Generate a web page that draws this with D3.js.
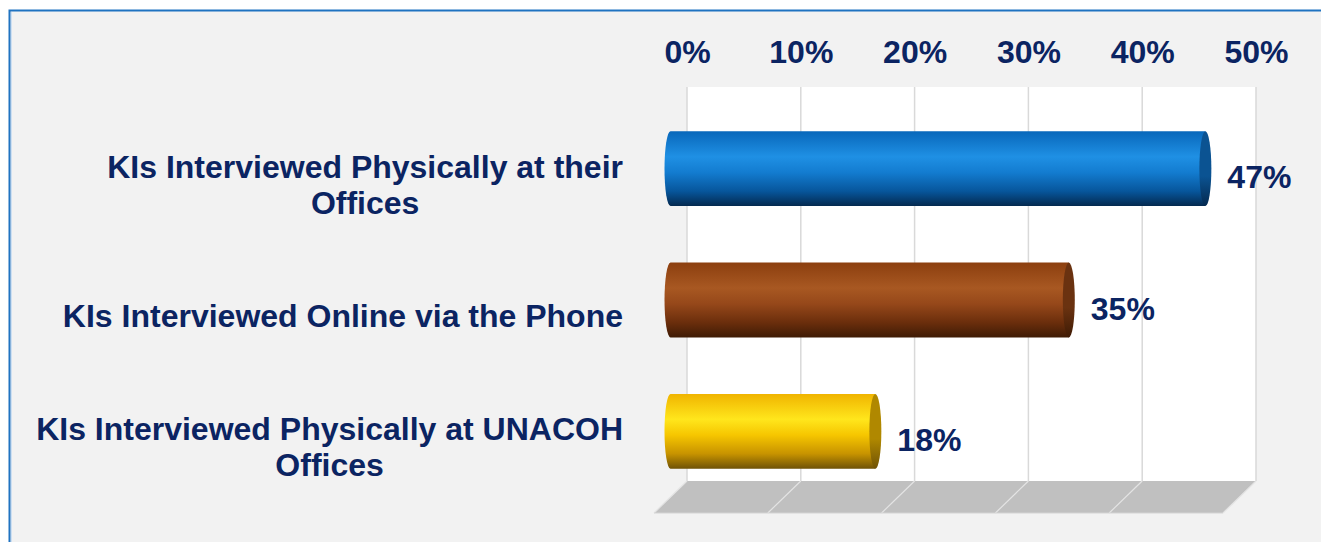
<!DOCTYPE html>
<html>
<head>
<meta charset="utf-8">
<script src="https://cdn.jsdelivr.net/npm/d3@7/dist/d3.min.js"></script>
<style>
  html, body { margin: 0; padding: 0; background: #ffffff; }
  svg { display: block; }
  text { font-family: Arial, "Liberation Sans", sans-serif; font-weight: bold; fill: #0b2462; }
</style>
</head>
<body>
<svg id="chart" width="1321" height="542"></svg>
<script>
// Survey results: how key informants (KIs) were interviewed
const categoryLines = [
  ["KIs Interviewed Physically at their", "Offices"],
  ["KIs Interviewed Online via the Phone"],
  ["KIs Interviewed Physically at UNACOH", "Offices"]
];
const values = [47, 35, 18];
const valueLabels = ["47%", "35%", "18%"];
const tickValues = [0, 10, 20, 30, 40, 50];
const tickLabels = ["0%", "10%", "20%", "30%", "40%", "50%"];

// Cylinder colours: [top, highlight, middle, shadow, bottom, cap]
const barColors = [
  ["#0867ba", "#1f90e4", "#137cd0", "#07569c", "#04294f", "#0b5392"],
  ["#8c3f0f", "#a85822", "#96481a", "#6b2e0c", "#3f1b05", "#6a3210"],
  ["#f0b400", "#ffe61c", "#f6c600", "#c79300", "#6f5206", "#b08800"]
];

const svg = d3.select("#chart");
const W = 1321, H = 542;

// 3D depth: bars sit half-way between back wall and front floor edge
const depthX = 16.5, depthY = 16;

// Value scale on the bar plane
const x = d3.scaleLinear().domain([0, 50]).range([670.5, 1239.5]);
const xWall = v => x(v) + depthX;
const xFront = v => x(v) - depthX;

// Category band scale on the bar plane
const y = d3.scaleBand()
  .domain(d3.range(values.length))
  .range([103, 497])
  .paddingInner(0.43)
  .paddingOuter(0.215);

const wallTop = y.range()[0] - depthY;
const wallBottom = y.range()[1] - depthY;
const floorFront = y.range()[1] + depthY;

// Frame
svg.append("rect").attr("width", W).attr("height", H).attr("fill", "#ffffff");
svg.append("rect")
  .attr("x", 9.5).attr("y", 10.5)
  .attr("width", W + 20).attr("height", H + 20)
  .attr("fill", "#f2f2f2")
  .attr("stroke", "#1f73c1").attr("stroke-width", 2);
svg.append("line")
  .attr("x1", 11.5).attr("y1", 12).attr("x2", 11.5).attr("y2", H)
  .attr("stroke", "#cfe0f2").attr("stroke-width", 1);

// Back wall
svg.append("rect")
  .attr("x", xWall(0)).attr("y", wallTop)
  .attr("width", xWall(50) - xWall(0)).attr("height", wallBottom - wallTop)
  .attr("fill", "#ffffff");

svg.append("g").selectAll("line")
  .data(tickValues)
  .join("line")
  .attr("x1", d => xWall(d)).attr("x2", d => xWall(d))
  .attr("y1", wallTop).attr("y2", wallBottom)
  .attr("stroke", "#d9d9d9").attr("stroke-width", 1.5);

// Floor
const floorPts = [
  [xWall(0), wallBottom], [xWall(50), wallBottom],
  [xFront(50), floorFront], [xFront(0), floorFront]
];
svg.append("path")
  .attr("d", d3.line()(floorPts) + "Z")
  .attr("fill", "#c0c0c0");

svg.append("g").selectAll("line")
  .data(tickValues)
  .join("line")
  .attr("x1", d => xWall(d)).attr("y1", wallBottom)
  .attr("x2", d => xFront(d)).attr("y2", floorFront)
  .attr("stroke", "#e4e4e4").attr("stroke-width", 1.2);
svg.append("line")
  .attr("x1", xFront(0)).attr("y1", floorFront)
  .attr("x2", xFront(50)).attr("y2", floorFront)
  .attr("stroke", "#d4d4d4").attr("stroke-width", 1);

// Top value axis
const axis = d3.axisTop(d3.scaleLinear().domain([0, 50]).range([xWall(0), xWall(50)]))
  .tickValues(tickValues)
  .tickFormat((d, i) => tickLabels[i])
  .tickSize(0)
  .tickPadding(0);
const axisG = svg.append("g").attr("transform", "translate(0,62.5)").call(axis);
axisG.select(".domain").remove();
axisG.selectAll("text")
  .attr("font-size", 32)
  .attr("font-family", "Arial, 'Liberation Sans', sans-serif")
  .attr("font-weight", "bold")
  .attr("fill", "#0b2462");

// Gradients for the cylinders
const defs = svg.append("defs");
barColors.forEach((c, i) => {
  const g = defs.append("linearGradient")
    .attr("id", "body" + i)
    .attr("x1", 0).attr("y1", 0).attr("x2", 0).attr("y2", 1);
  [[0, c[0]], [0.34, c[1]], [0.55, c[2]], [0.8, c[3]], [1, c[4]]].forEach(([o, col]) => {
    g.append("stop").attr("offset", o).attr("stop-color", col);
  });
  const cg = defs.append("linearGradient")
    .attr("id", "cap" + i)
    .attr("x1", 0).attr("y1", 0).attr("x2", 0).attr("y2", 1);
  cg.append("stop").attr("offset", 0).attr("stop-color", c[5]);
  cg.append("stop").attr("offset", 0.6).attr("stop-color", c[5]);
  cg.append("stop").attr("offset", 1).attr("stop-color", c[4]);
});

// Bars as horizontal cylinders
const rx = 6;
const bars = svg.append("g").selectAll("g")
  .data(values)
  .join("g");

bars.append("path")
  .attr("d", (d, i) => {
    const x0 = x(0), x1 = x(d), t = y(i), b = y(i) + y.bandwidth(), ry = y.bandwidth() / 2;
    return `M${x0},${t}L${x1},${t}L${x1},${b}L${x0},${b}A${rx},${ry} 0 0 1 ${x0},${t}Z`;
  })
  .attr("fill", (d, i) => `url(#body${i})`);

bars.append("ellipse")
  .attr("cx", d => x(d))
  .attr("cy", (d, i) => y(i) + y.bandwidth() / 2)
  .attr("rx", rx)
  .attr("ry", y.bandwidth() / 2)
  .attr("fill", (d, i) => `url(#cap${i})`);

// Value labels
svg.append("g").selectAll("text")
  .data(values)
  .join("text")
  .attr("x", d => x(d) + rx + 16)
  .attr("y", (d, i) => y(i) + y.bandwidth() / 2 + 19.5)
  .attr("font-size", 32)
  .text((d, i) => valueLabels[i]);

// Category labels: lines centred within a block whose right edge is fixed
const labelRight = 623;
const lineGap = 36;
categoryLines.forEach((lines, i) => {
  const centre = y(i) + y.bandwidth() / 2 + depthY - 0.5;
  const firstBase = centre + 11.5 - (lines.length - 1) * lineGap / 2;
  const g = svg.append("g");
  const texts = lines.map((ln, j) =>
    g.append("text")
      .attr("font-size", 32)
      .attr("y", firstBase + j * lineGap)
      .attr("text-anchor", "middle")
      .text(ln)
  );
  const maxW = d3.max(texts, t => t.node().getComputedTextLength());
  texts.forEach(t => t.attr("x", labelRight - maxW / 2));
});
</script>
</body>
</html>
